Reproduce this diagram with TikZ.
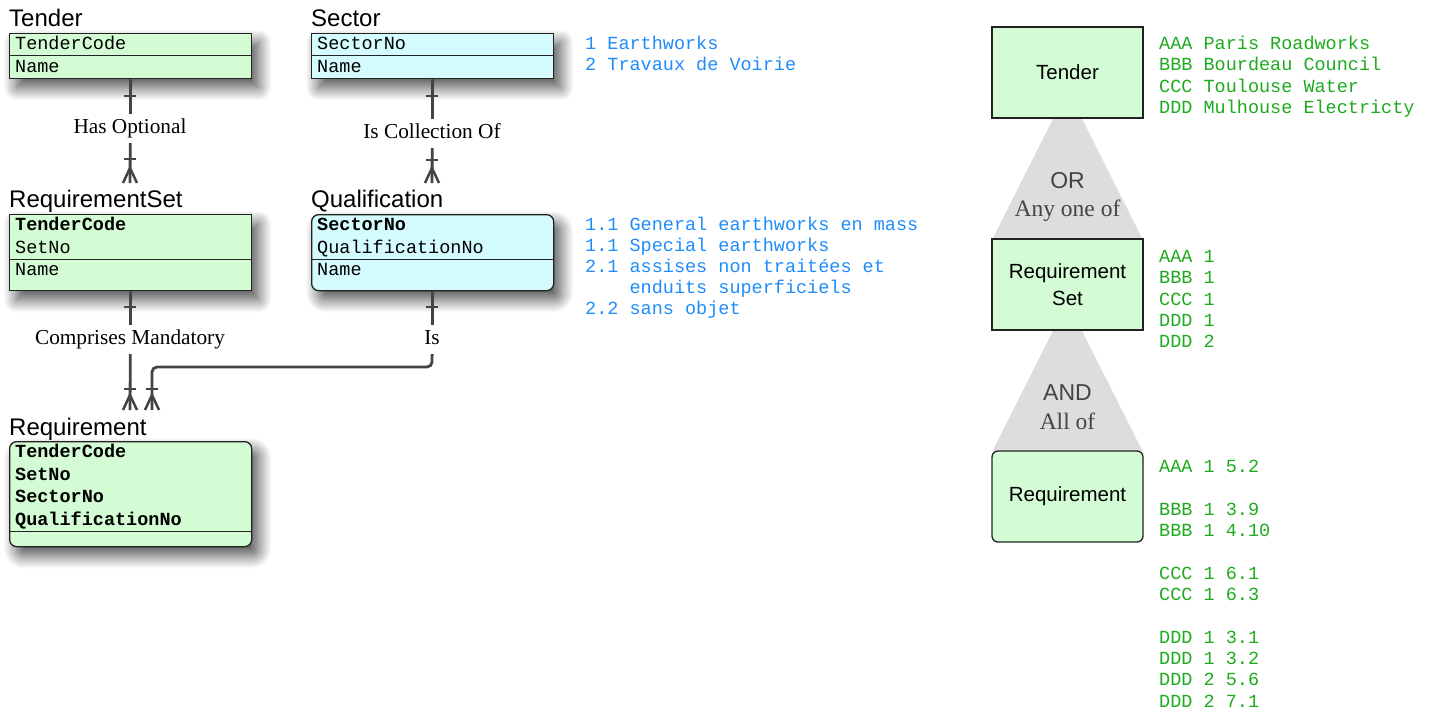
\documentclass[tikz,border=0pt]{standalone}
\usepackage{fontspec}
\setmainfont{Liberation Serif}
\setsansfont{Liberation Sans}
\setmonofont{Liberation Mono}
\usetikzlibrary{shadows.blur}
\definecolor{tgreen}{RGB}{212,252,212}
\definecolor{tcyan}{RGB}{212,252,255}
\definecolor{edge}{RGB}{34,34,34}
\definecolor{conncol}{RGB}{68,68,68}
\definecolor{bluetxt}{RGB}{30,140,250}
\definecolor{greentxt}{RGB}{30,170,30}
\definecolor{trigray}{RGB}{221,221,221}
\definecolor{graytxt}{RGB}{68,68,68}
\newcommand{\monosz}{\fontsize{18.5}{21.3}\selectfont}
\begin{document}
\begin{tikzpicture}[x=1pt,y=-1pt,
 tbl/.style={draw=edge, line width=1.3pt, inner sep=0pt, anchor=north west, minimum width=242pt,
   blur shadow={shadow xshift=7pt, shadow yshift=-9pt, shadow blur radius=13pt, shadow blur steps=16, shadow opacity=70}},
 divider/.style={draw=edge, line width=1.3pt},
 ttl/.style={font=\sffamily\fontsize{24}{28}\selectfont, anchor=base west, inner sep=0pt},
 fld/.style={font=\ttfamily\monosz, anchor=base west, inner sep=0pt},
 bfld/.style={font=\ttfamily\bfseries\monosz, anchor=base west, inner sep=0pt},
 conn/.style={draw=conncol, line width=2.8pt},
 rel/.style={font=\fontsize{21.3}{25}\selectfont, fill=white, inner xsep=3pt, inner ysep=4.5pt, text height=15pt, text depth=5pt, anchor=base},
 blist/.style={font=\ttfamily\monosz, text=bluetxt, anchor=base west, inner sep=0pt},
 glist/.style={font=\ttfamily\monosz, text=greentxt, anchor=base west, inner sep=0pt},
 rbox/.style={draw=edge, line width=1.3pt, fill=tgreen, minimum width=151pt, minimum height=91pt, inner sep=0pt, font=\sffamily\fontsize{20.5}{27}\selectfont, align=center},
 gate/.style={font=\sffamily\fontsize{23}{27}\selectfont, text=graytxt, anchor=base, inner sep=0pt},
 gatesub/.style={font=\fontsize{23.5}{27}\selectfont, text=graytxt, anchor=base, inner sep=0pt},
 tick/.pic={\draw[conn, line width=2.5pt] (-6,0) -- (6,0);},
 crow/.pic={\draw[conn, line width=2.5pt] (-7,0) -- (0,-15) -- (7,0);}
]
\useasboundingbox (0,0) rectangle (1434,713);

% ---------- Tender ----------
\node[tbl, fill=tgreen, minimum height=45pt] (tender) at (9,33) {};
\draw[divider] (9,55.5) -- (251,55.5);
\node[ttl] (tenderT) at (9,26) {Tender};
\node[fld] (tender1) at (15,49.5) {TenderCode};
\node[fld] (tender2) at (15,72) {Name};

% ---------- Sector ----------
\node[tbl, fill=tcyan, minimum height=45pt] (sector) at (311,33) {};
\draw[divider] (311,55.5) -- (553,55.5);
\node[ttl] (sectorT) at (311,26) {Sector};
\node[fld] (sector1) at (317,49.5) {SectorNo};
\node[fld] (sector2) at (317,72) {Name};

% ---------- RequirementSet ----------
\node[tbl, fill=tgreen, minimum height=76pt] (reqset) at (9,214) {};
\draw[divider] (9,259.5) -- (251,259.5);
\node[ttl] (reqsetT) at (9,207) {RequirementSet};
\node[bfld] (reqset1) at (15,230.5) {TenderCode};
\node[fld] (reqset2) at (15,253) {SetNo};
\node[fld] (reqset3) at (15,275.5) {Name};

% ---------- Qualification ----------
\node[tbl, fill=tcyan, minimum height=76pt, rounded corners=7pt] (qual) at (311,214) {};
\draw[divider] (311,259.5) -- (553,259.5);
\node[ttl] (qualT) at (311,207) {Qualification};
\node[bfld] (qual1) at (317,230.5) {SectorNo};
\node[fld] (qual2) at (317,253) {QualificationNo};
\node[fld] (qual3) at (317,275.5) {Name};

% ---------- Requirement ----------
\node[tbl, fill=tgreen, minimum height=105pt, rounded corners=7pt] (req) at (9,441) {};
\draw[divider] (9,531.5) -- (251,531.5);
\node[ttl] (reqT) at (9,435) {Requirement};
\node[bfld] (req1) at (15,457.5) {TenderCode};
\node[bfld] (req2) at (15,480) {SetNo};
\node[bfld] (req3) at (15,502.5) {SectorNo};
\node[bfld] (req4) at (15,525) {QualificationNo};

% ---------- Connectors ----------
\coordinate (e1) at (130,183);
\draw[conn] (tender.south) -- (e1);
\pic at (130,96) {tick}; \pic at (130,159) {tick}; \pic at (e1) {crow};
\node[rel] (r1) at (130,133) {Has Optional};

\coordinate (e2) at (432,183);
\draw[conn] (sector.south) -- (e2);
\pic at (432,96) {tick}; \pic at (432,160) {tick}; \pic at (e2) {crow};
\node[rel] (r2) at (432,138.5) {Is Collection Of};

\coordinate (e3) at (130,410);
\draw[conn] (reqset.south) -- (e3);
\pic at (130,307) {tick}; \pic at (130,389) {tick}; \pic at (e3) {crow};
\node[rel] (r3) at (130,344) {Comprises Mandatory};

\coordinate (e4) at (152,410);
\draw[conn, rounded corners=5pt] (qual.south) -- (432,367) -- (152,367) -- (e4);
\pic at (432,307) {tick}; \pic at (152,389) {tick}; \pic at (e4) {crow};
\node[rel] (r4) at (432,344.5) {Is};

% ---------- Blue lists ----------
\node[blist] (b1) at (585,49) {1 Earthworks};
\node[blist] (b2) at (585,70) {2 Travaux de Voirie};
\node[blist] (q1) at (585,230) {1.1 General earthworks en mass};
\node[blist] (q2) at (585,251) {1.1 Special earthworks};
\node[blist] (q3) at (585,272) {2.1 assises non traitées et};
\node[blist] (q4) at (629.4,293) {enduits superficiels};
\node[blist] (q5) at (585,314) {2.2 sans objet};

% ---------- Right side ----------
\fill[trigray] (1067.5,90) -- (1142.5,239) -- (992.5,239) -- cycle;
\fill[trigray] (1067.5,302) -- (1142.5,451) -- (992.5,451) -- cycle;
\node[rbox] (tenderR) at (1067.5,72.5) {Tender};
\node[rbox] (reqsetR) at (1067.5,284.5) {Requirement\\Set};
\node[rbox, rounded corners=6pt] (reqR) at (1067.5,496.5) {Requirement};

\node[gate] (orT) at (1067.5,188) {OR};
\node[gatesub] (anyT) at (1067.5,216.5) {Any one of};
\node[gate] (andT) at (1067.5,400) {AND};
\node[gatesub] (allT) at (1067.5,429) {All of};

\foreach \i/\t in {0/AAA Paris Roadworks, 1/BBB Bourdeau Council, 2/CCC Toulouse Water, 3/DDD Mulhouse Electricty}
  \node[glist] (gt\i) at (1159,{49.5+21.3*\i}) {\t};
\foreach \i/\t in {0/AAA 1, 1/BBB 1, 2/CCC 1, 3/DDD 1, 4/DDD 2}
  \node[glist] (gs\i) at (1159,{262.7+21.25*\i}) {\t};
\foreach \i/\t in {0/AAA 1 5.2, 2/BBB 1 3.9, 3/BBB 1 4.10, 5/CCC 1 6.1, 6/CCC 1 6.3, 8/DDD 1 3.1, 9/DDD 1 3.2, 10/DDD 2 5.6, 11/DDD 2 7.1}
  \node[glist] (gr\i) at (1159,{472.7+21.3*\i}) {\t};
\end{tikzpicture}
\end{document}
